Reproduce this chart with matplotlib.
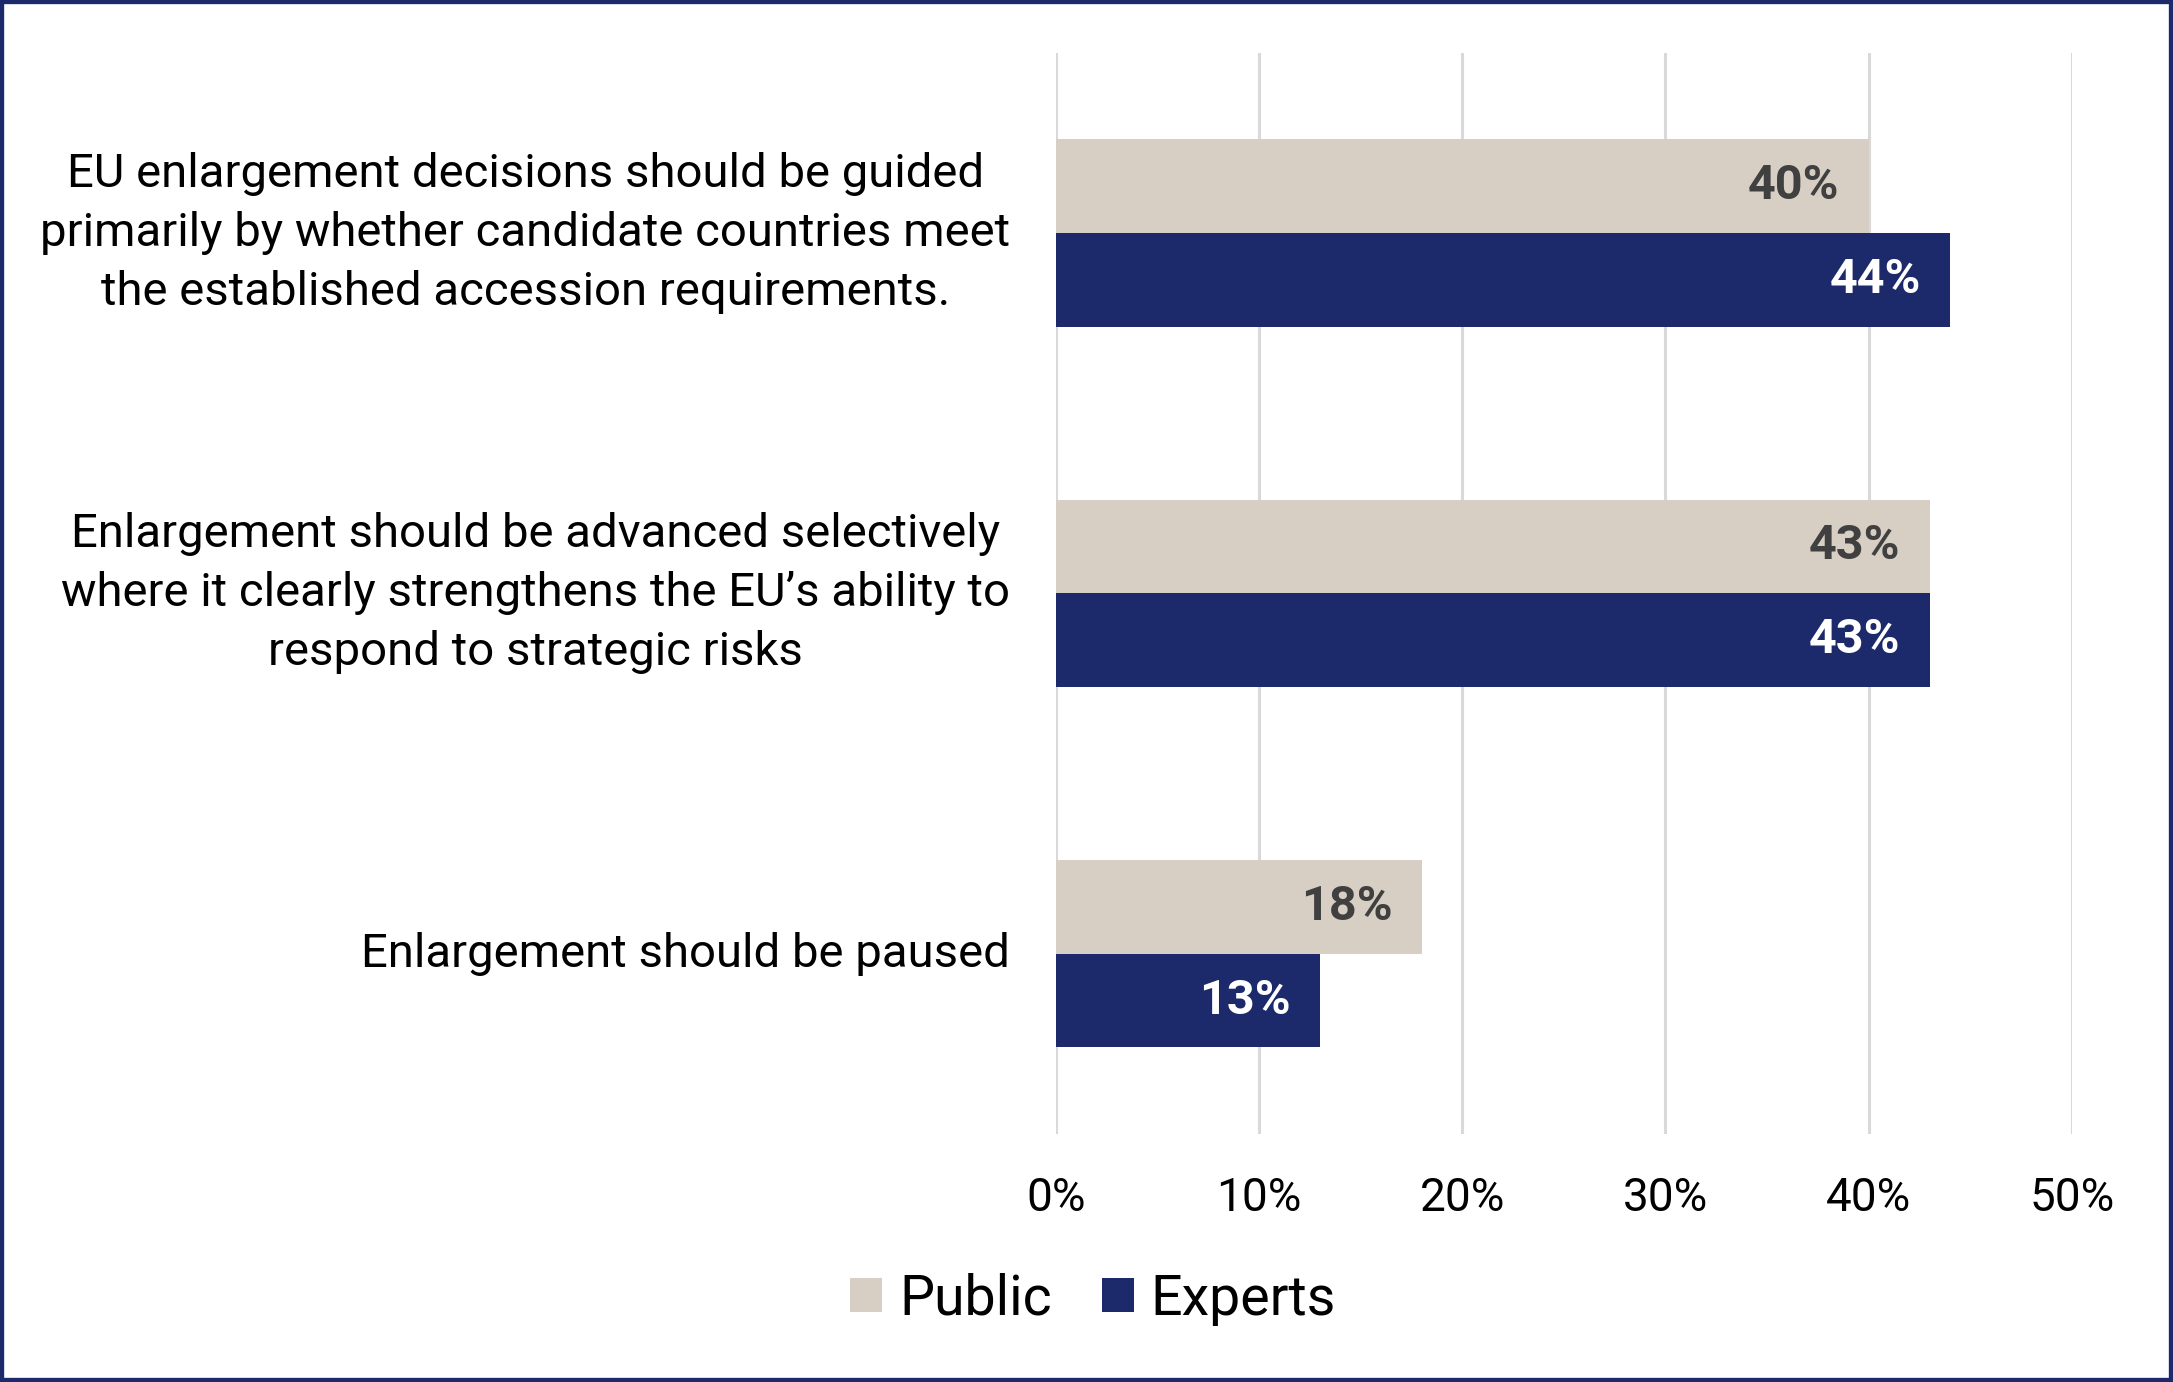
import matplotlib
matplotlib.use("Agg")
import matplotlib.pyplot as plt
from matplotlib.patches import Rectangle
from matplotlib.transforms import ScaledTranslation
import numpy as np

# chart data
categories = [
    "EU enlargement decisions should be guided\nprimarily by whether candidate countries meet\nthe established accession requirements.",
    "Enlargement should be advanced selectively\nwhere it clearly strengthens the EU\u2019s ability to\nrespond to strategic risks",
    "Enlargement should be paused",
]
public = [40, 43, 18]
experts = [44, 43, 13]
xticks = [0, 10, 20, 30, 40, 50]

c_public = "#D8CFC4"
c_experts = "#1C2A6B"

plt.rcParams['font.family'] = ['Roboto', 'DejaVu Sans']

fig = plt.figure(figsize=(21.73, 13.82), dpi=100)
ax = fig.add_axes([0.486, 0.1795, 0.9534 - 0.486, 0.9619 - 0.1795])

y = np.arange(len(categories))
h = 0.26
bp = ax.barh(y - h / 2, public, height=h, color=c_public, zorder=2)
be = ax.barh(y + h / 2, experts, height=h, color=c_experts, zorder=2)

for bar, v in zip(bp, public):
    ax.annotate(f"{v}%", (bar.get_width(), bar.get_y() + bar.get_height() / 2),
                xytext=(-21, 0), textcoords="offset points", ha="right", va="center",
                fontsize=35, fontweight="bold", color="#404040")
for bar, v in zip(be, experts):
    ax.annotate(f"{v}%", (bar.get_width(), bar.get_y() + bar.get_height() / 2),
                xytext=(-21, 0), textcoords="offset points", ha="right", va="center",
                fontsize=35, fontweight="bold", color="white")

ax.set_xlim(0, 50)
ax.set_ylim(2.5, -0.5)
ax.set_xticks(xticks)
ax.set_xticklabels([f"{t}%" for t in xticks], fontsize=33)
ax.set_yticks(y)
ax.set_yticklabels([])

# category labels, right aligned next to the axis, lines centred
tr = ax.get_yaxis_transform() + ScaledTranslation(-33 / 72, 0, fig.dpi_scale_trans)
for yi, cat in zip(y, categories):
    ax.text(0, yi, cat, transform=tr, fontsize=34, ha="right", va="center",
            multialignment="center", linespacing=1.43)

ax.tick_params(axis="both", length=0)
ax.tick_params(axis="x", pad=30)
ax.grid(axis="x", color="#D9D9D9", linewidth=2.2, zorder=0)
ax.set_axisbelow(True)
for s in ax.spines.values():
    s.set_visible(False)

leg = fig.legend([bp, be], ["Public", "Experts"], loc="center",
                 bbox_to_anchor=(0.503, 0.060), ncol=2, frameon=False,
                 fontsize=40, handlelength=0.58, handleheight=0.58,
                 handletextpad=0.3, columnspacing=0.9)

fig.patches.append(Rectangle((0, 0), 1, 1, transform=fig.transFigure,
                             fill=False, edgecolor=c_experts, linewidth=6))

fig.savefig("out.png", dpi=100)
